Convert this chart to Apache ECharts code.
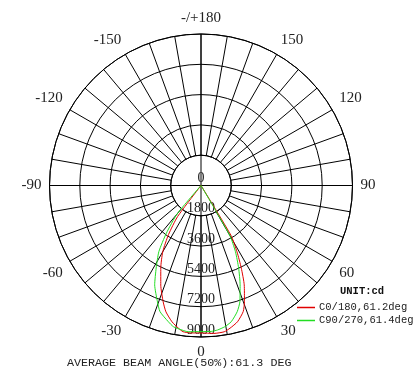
<!DOCTYPE html>
<html>
<head>
<meta charset="utf-8">
<script src="https://cdn.jsdelivr.net/npm/echarts@6/dist/echarts.min.js"></script>
<style>
html,body{margin:0;padding:0;background:#fff;}
#chart{width:420px;height:379px;}
</style>
</head>
<body>
<div id="chart"></div>
<script>
// Radial tick values (cd)
const radialTicks = [0, 1800, 3600, 5400, 7200, 9000];
// Angle tick labels every 30 degrees
const angleTickLabels = {0:'0',30:'30',60:'60',90:'90',120:'120',150:'150',180:'-/+180',210:'-150',240:'-120',270:'-90',300:'-60',330:'-30'};

// C0 half (red, right side): gamma angle (deg) and intensity (cd)
const c0Gamma = [0, 5, 9, 11.5, 15, 18.5, 20.5, 23.5, 26, 28.5, 31, 40];
const c0Value = [8760, 8820, 8800, 8650, 8380, 7900, 7370, 6440, 5460, 4480, 3440, 0];
// C180 half (red, left side)
const c180Gamma = [0, 4, 7, 9, 12, 15.5, 18, 22, 26, 30, 33.5, 37, 45];
const c180Value = [8760, 8780, 8750, 8580, 8280, 7790, 7270, 6380, 5450, 4540, 3500, 2300, 0];
// C90 half (green, right side)
const c90Gamma = [0, 4, 6.5, 9.5, 12.5, 16, 18.5, 21.5, 24.5, 27.5, 30, 40];
const c90Value = [8680, 8690, 8640, 8510, 8290, 7800, 7280, 6340, 5390, 4430, 3400, 0];
// C270 half (green, left side)
const c270Gamma = [0, 5, 7.5, 11, 13.5, 18, 20.5, 25, 28.5, 32.5, 36, 40, 48];
const c270Value = [8680, 8720, 8660, 8550, 8320, 7880, 7380, 6510, 5580, 4660, 3500, 2200, 0];

const seriesNames = ['C0/180,61.2deg', 'C90/270,61.4deg'];
const unitText = 'UNIT:cd';
const beamText = 'AVERAGE BEAM ANGLE(50%):61.3 DEG';

function buildCurve(leftG, leftV, rightG, rightV) {
  const pts = [];
  for (let i = leftG.length - 1; i >= 1; i--) pts.push([leftV[i], 360 - leftG[i]]);
  for (let i = 0; i < rightG.length; i++) pts.push([rightV[i], rightG[i]]);
  return pts;
}

const CX = 201, CY = 185.5, R = 151.5;
const rInner = R * radialTicks[1] / radialTicks[radialTicks.length - 1];

const chart = echarts.init(document.getElementById('chart'), null, {renderer: 'canvas'});
const option = {
  animation: false,
  backgroundColor: '#fff',
  polar: [
    {center: [CX, CY], radius: [rInner, R]},
    {center: [CX, CY], radius: [0, R]}
  ],
  angleAxis: [
    {
      polarIndex: 0, type: 'value', min: 0, max: 360, interval: 10,
      startAngle: 270, clockwise: false,
      axisLine: {show: true, lineStyle: {color: '#000', width: 1}},
      axisTick: {show: false},
      splitLine: {show: true, lineStyle: {color: '#000', width: 1}},
      axisLabel: {
        show: true, margin: 8, color: '#222',
        fontFamily: 'Liberation Serif', fontSize: 15,
        formatter: function (v) { return angleTickLabels.hasOwnProperty(v) ? angleTickLabels[v] : ''; }
      }
    },
    {
      polarIndex: 1, type: 'value', min: 0, max: 360, interval: 90,
      startAngle: 270, clockwise: false,
      axisLine: {show: false}, axisTick: {show: false}, axisLabel: {show: false},
      splitLine: {show: true, lineStyle: {color: '#000', width: 1}}
    }
  ],
  radiusAxis: [
    {
      polarIndex: 0, type: 'value', min: radialTicks[1], max: radialTicks[radialTicks.length - 1], interval: 1800,
      axisLine: {show: false}, axisTick: {show: false}, axisLabel: {show: false},
      splitLine: {show: true, lineStyle: {color: '#000', width: 1}}
    },
    {
      polarIndex: 1, type: 'value', min: 0, max: radialTicks[radialTicks.length - 1], interval: 1800,
      axisLine: {show: false}, axisTick: {show: false},
      splitLine: {show: false},
      axisLabel: {
        show: true, margin: 0, rotate: 0, align: 'center', verticalAlign: 'bottom',
        color: '#222', fontFamily: 'Liberation Serif', fontSize: 14,
        formatter: function (v) { return String(v); }
      }
    }
  ],
  legend: {
    orient: 'vertical', left: 297, top: 302, padding: 0,
    itemWidth: 18, itemHeight: 1.5, itemGap: 2, icon: 'rect',
    textStyle: {fontFamily: 'Liberation Mono', fontSize: 10.5, color: '#222', padding: [0,0,0,-1]},
    data: seriesNames
  },
  title: [
    {text: unitText, left: 340, top: 286, padding: 0,
     textStyle: {fontFamily: 'Liberation Mono', fontSize: 10.5, fontWeight: 'bold', color: '#111'}},
    {text: beamText, left: 67, top: 357, padding: 0,
     textStyle: {fontFamily: 'Liberation Mono', fontSize: 11.7, fontWeight: 'normal', color: '#222'}}
  ],
  series: [
    {
      name: seriesNames[0], type: 'line', coordinateSystem: 'polar', polarIndex: 1,
      symbol: 'none', smooth: 0.2, z: 5,
      lineStyle: {color: '#e00000', width: 1}, itemStyle: {color: '#e00000'},
      data: buildCurve(c180Gamma, c180Value, c0Gamma, c0Value)
    },
    {
      name: seriesNames[1], type: 'line', coordinateSystem: 'polar', polarIndex: 1,
      symbol: 'none', smooth: 0.2, z: 5,
      lineStyle: {color: '#22dd22', width: 1}, itemStyle: {color: '#22dd22'},
      data: buildCurve(c270Gamma, c270Value, c90Gamma, c90Value)
    }
  ]
};
chart.setOption(option);
</script>
</body>
</html>
